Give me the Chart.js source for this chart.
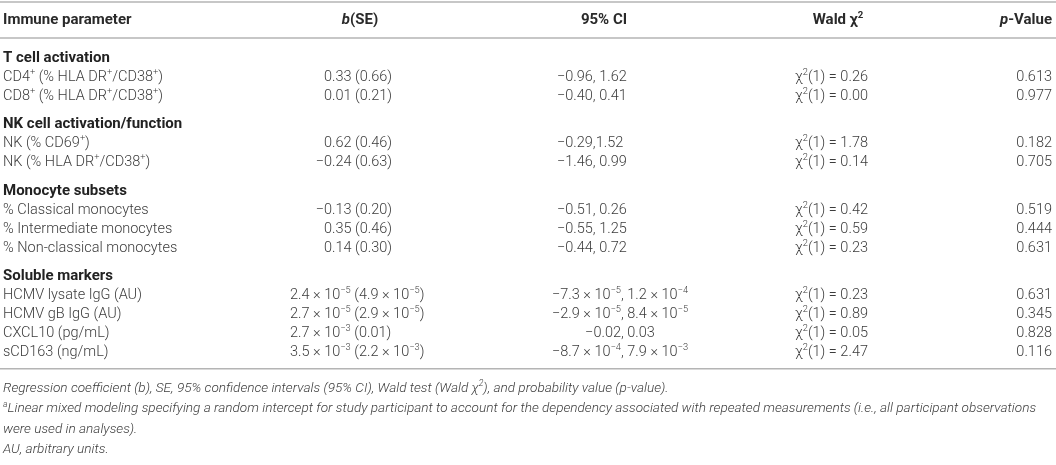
<html lang="en">
<head>
  <meta charset="UTF-8">
  <title>Immune parameters table</title>
  <script src="https://cdn.jsdelivr.net/npm/chart.js"></script>
  <style>
    html, body { margin: 0; padding: 0; background: #fff; }
    .wrap { width: 1056px; height: 465px; position: relative; }
  </style>
</head>
<body>
  <div class="wrap"><canvas id="table-chart"></canvas></div>
  <script>
    // Table contents ("_" toggles italic, "^" toggles superscript)
    const headers = ['Immune parameter', '_b_(SE)', '95% CI', 'Wald χ^2^', '_p_-Value'];
    const sections = ['T cell activation', 'NK cell activation/function', 'Monocyte subsets', 'Soluble markers'];
    const sectionSizes = [2, 2, 3, 4];
    const parameters = [
      'CD4^+^ (% HLA DR^+^/CD38^+^)', 'CD8^+^ (% HLA DR^+^/CD38^+^)',
      'NK (% CD69^+^)', 'NK (% HLA DR^+^/CD38^+^)',
      '% Classical monocytes', '% Intermediate monocytes', '% Non-classical monocytes',
      'HCMV lysate IgG (AU)', 'HCMV gB IgG (AU)', 'CXCL10 (pg/mL)', 'sCD163 (ng/mL)'
    ];
    const bSE = [
      '0.33 (0.66)', '0.01 (0.21)',
      '0.62 (0.46)', '−0.24 (0.63)',
      '−0.13 (0.20)', '0.35 (0.46)', '0.14 (0.30)',
      '2.4 × 10^−5^ (4.9 × 10^−5^)', '2.7 × 10^−5^ (2.9 × 10^−5^)', '2.7 × 10^−3^ (0.01)', '3.5 × 10^−3^ (2.2 × 10^−3^)'
    ];
    const ci95 = [
      '−0.96, 1.62', '−0.40, 0.41',
      '−0.29,1.52', '−1.46, 0.99',
      '−0.51, 0.26', '−0.55, 1.25', '−0.44, 0.72',
      '−7.3 × 10^−5^, 1.2 × 10^−4^', '−2.9 × 10^−5^, 8.4 × 10^−5^', '−0.02, 0.03', '−8.7 × 10^−4^, 7.9 × 10^−3^'
    ];
    const wald = [
      'χ^2^(1) = 0.26', 'χ^2^(1) = 0.00',
      'χ^2^(1) = 1.78', 'χ^2^(1) = 0.14',
      'χ^2^(1) = 0.42', 'χ^2^(1) = 0.59', 'χ^2^(1) = 0.23',
      'χ^2^(1) = 0.23', 'χ^2^(1) = 0.89', 'χ^2^(1) = 0.05', 'χ^2^(1) = 2.47'
    ];
    const pValues = ['0.613', '0.977', '0.182', '0.705', '0.519', '0.444', '0.631', '0.631', '0.345', '0.828', '0.116'];
    const footnotes = [
      'Regression coefficient (b), SE, 95% confidence intervals (95% CI), Wald test (Wald χ^2^), and probability value (p-value).',
      '^a^Linear mixed modeling specifying a random intercept for study participant to account for the dependency associated with repeated measurements (i.e., all participant observations',
      'were used in analyses).',
      'AU, arbitrary units.'
    ];

    // Layout (column anchors in x units, row slots in y units)
    const FONT = 'Roboto, "Liberation Sans", sans-serif';
    const INK = '#3c3c3c';
    const RULE = '#b4b4b4';
    const headerCols = [[3, 'left'], [360, 'center'], [604, 'center'], [838, 'center'], [1052, 'right']];
    const narrowCols = [[3, 'left'], [392, 'right'], [557, 'left'], [795, 'left'], [1052, 'right']];
    const wideCols = [[3, 'left'], [290, 'left'], [620, 'center'], [795, 'left'], [1052, 'right']];
    const wideSection = 3;

    // build row slots
    const rows = [];
    let slot = 0, k = 0;
    sections.forEach((s, si) => {
      slot += si === 0 ? 2 : 1.5;
      rows.push({ slot, title: s });
      for (let j = 0; j < sectionSizes[si]; j++) {
        slot += 1;
        rows.push({ slot, cells: [parameters[k], bSE[k], ci95[k], wald[k], pValues[k]], wide: si === wideSection });
        k++;
      }
    });
    const lastSlot = slot;

    function segments(text) {
      const out = [];
      let italic = false, sup = false, buf = '';
      for (const ch of text) {
        if (ch === '_' || ch === '^') {
          if (buf) out.push({ t: buf, italic, sup });
          buf = '';
          if (ch === '_') italic = !italic; else sup = !sup;
        } else buf += ch;
      }
      if (buf) out.push({ t: buf, italic, sup });
      return out;
    }

    function drawRich(ctx, text, x, y, align, weight, size, italicAll) {
      const segs = segments(text);
      const fontOf = s => ((s.italic !== !!italicAll) ? 'italic ' : '') + weight + ' ' +
        (s.sup ? size * 0.64 : size) + 'px ' + FONT;
      let total = 0;
      segs.forEach(s => { ctx.font = fontOf(s); s.w = ctx.measureText(s.t).width; total += s.w; });
      let cx = align === 'left' ? x : align === 'right' ? x - total : x - total / 2;
      ctx.textAlign = 'left';
      segs.forEach(s => {
        ctx.font = fontOf(s);
        ctx.fillText(s.t, cx, s.sup ? y - size * 0.32 : y);
        cx += s.w;
      });
    }

    const tablePlugin = {
      id: 'table',
      afterDraw(chart) {
        const { ctx, scales: { x, y } } = chart;
        ctx.save();
        ctx.textBaseline = 'middle';

        // rules
        ctx.strokeStyle = RULE;
        ctx.lineWidth = 1.5;
        [-0.95, 0.95, lastSlot + 0.85].forEach(s => {
          const py = y.getPixelForValue(s);
          ctx.beginPath();
          ctx.moveTo(x.getPixelForValue(0), py);
          ctx.lineTo(x.getPixelForValue(1056), py);
          ctx.stroke();
        });

        // header
        ctx.fillStyle = '#2a2a2a';
        headers.forEach((h, i) => {
          drawRich(ctx, h, x.getPixelForValue(headerCols[i][0]), y.getPixelForValue(0), headerCols[i][1], 'bold', 15);
        });

        // body
        rows.forEach(r => {
          const py = y.getPixelForValue(r.slot);
          if (r.title) {
            ctx.fillStyle = '#222';
            drawRich(ctx, r.title, x.getPixelForValue(3), py, 'left', 'bold', 15);
            return;
          }
          ctx.fillStyle = INK;
          const cols = r.wide ? wideCols : narrowCols;
          r.cells.forEach((c, i) => {
            drawRich(ctx, c, x.getPixelForValue(cols[i][0]), py, cols[i][1], '300', 14.5);
          });
        });

        // footnotes
        ctx.fillStyle = INK;
        footnotes.forEach((f, i) => {
          const py = y.getPixelForValue(lastSlot + 1.9 + i * 1.07);
          drawRich(ctx, f, x.getPixelForValue(3), py, 'left', '300', 13.6, true);
        });
        ctx.restore();
      }
    };

    const ROW = 19;
    const yMin = -20 / ROW;
    new Chart(document.getElementById('table-chart'), {
      type: 'scatter',
      data: { datasets: [] },
      options: {
        responsive: true,
        maintainAspectRatio: false,
        animation: false,
        layout: { padding: 0 },
        plugins: { legend: { display: false }, tooltip: { enabled: false } },
        scales: {
          x: { type: 'linear', min: 0, max: 1056, display: false },
          y: { type: 'linear', reverse: true, min: yMin, max: yMin + 465 / ROW, display: false }
        }
      },
      plugins: [tablePlugin]
    });
  </script>
</body>
</html>
